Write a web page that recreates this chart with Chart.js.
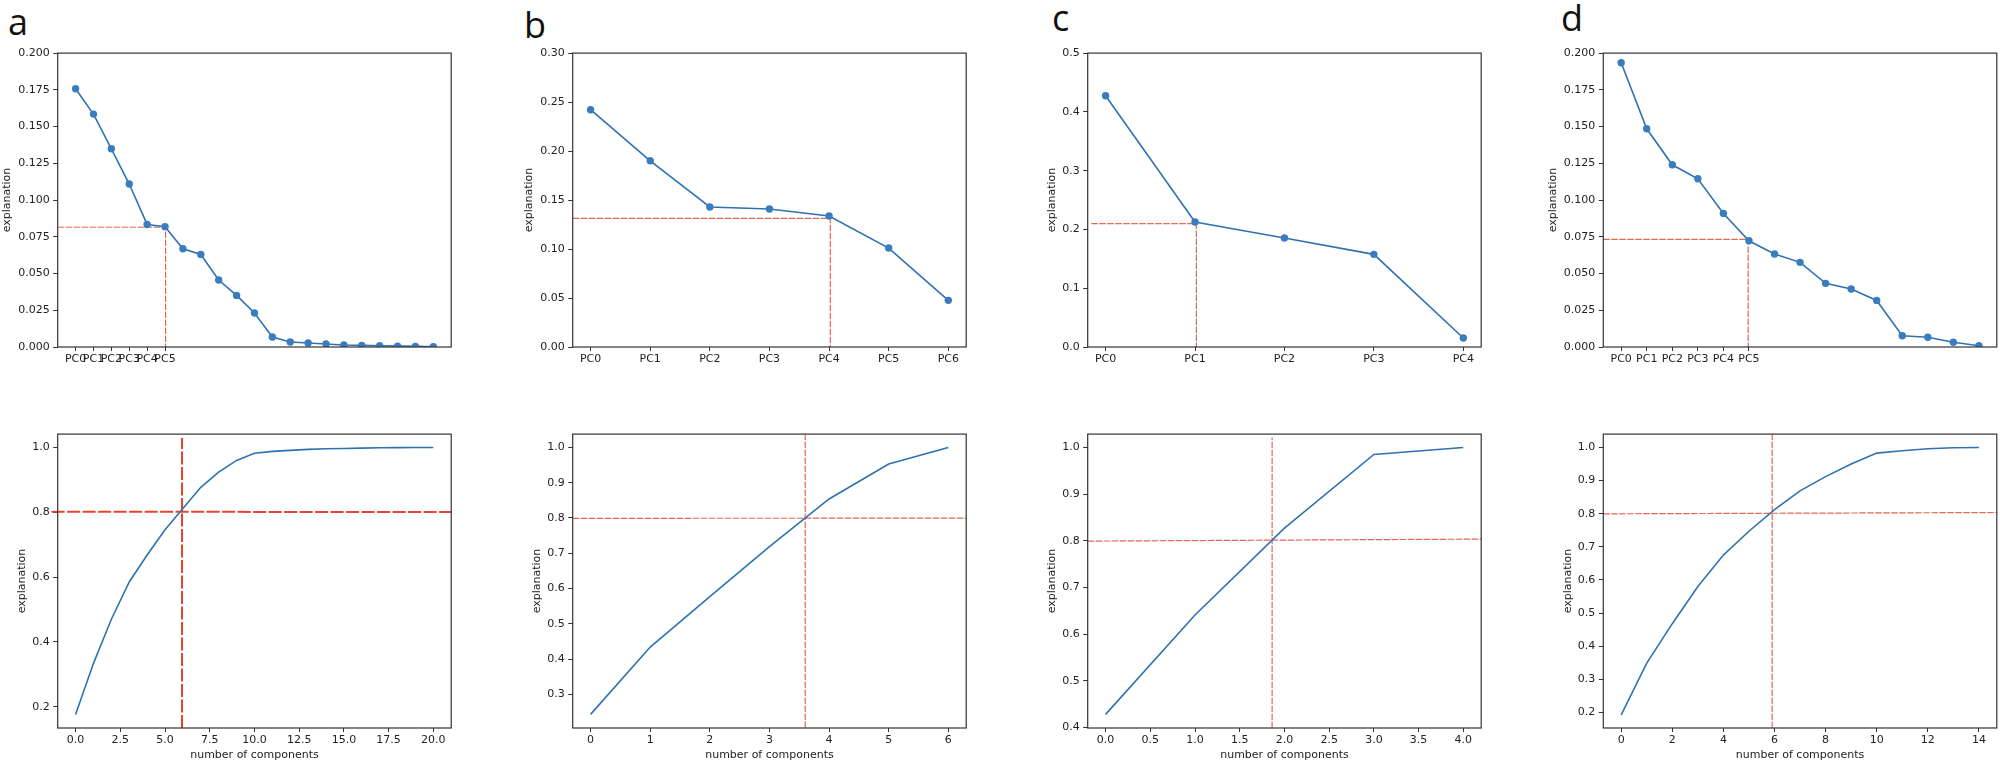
<!DOCTYPE html>
<html>
<head>
<meta charset="utf-8">
<script src="https://cdn.jsdelivr.net/npm/chart.js@4.4.1/dist/chart.umd.min.js"></script>
<style>
  html, body { margin: 0; padding: 0; background: #fff; }
  body { width: 2000px; height: 765px; position: relative; overflow: hidden; }
  canvas { position: absolute; }
  .tag { position: absolute; font: 36px 'Open Sans', sans-serif; line-height: 1; color: #111; }
</style>
</head>
<body>
<div class="tag" style="left:8px;top:4px">a</div>
<div class="tag" style="left:524px;top:7px">b</div>
<div class="tag" style="left:1052px;top:0px">c</div>
<div class="tag" style="left:1561px;top:0px">d</div>
<canvas id="aTop"></canvas>
<canvas id="bTop"></canvas>
<canvas id="cTop"></canvas>
<canvas id="dTop"></canvas>
<canvas id="aBot"></canvas>
<canvas id="bBot"></canvas>
<canvas id="cBot"></canvas>
<canvas id="dBot"></canvas>
<script>
// explained variance ratio per component
const aExplained = [0.1757, 0.1585, 0.1349, 0.1109, 0.0834, 0.0819, 0.0669, 0.0630, 0.0456, 0.0351, 0.0231,
    0.0068, 0.0034, 0.0027, 0.0020, 0.0014, 0.0011, 0.0009, 0.0006, 0.0004, 0.0002];
const bExplained = [0.2422, 0.1901, 0.1429, 0.1408, 0.1337, 0.1010, 0.0476];
const cExplained = [0.4274, 0.2126, 0.1854, 0.1576, 0.0153];
const dExplained = [0.1934, 0.1485, 0.1240, 0.1145, 0.0909, 0.0723, 0.0633, 0.0576, 0.0433, 0.0395, 0.0317,
    0.0077, 0.0066, 0.0032, 0.0009];

// cumulative explanation
const aCumulative = [0.176, 0.334, 0.470, 0.585, 0.668, 0.746, 0.812, 0.877, 0.924, 0.960, 0.982,
    0.988, 0.991, 0.994, 0.996, 0.997, 0.998, 0.999, 0.9995, 0.9998, 1.0];
const bCumulative = [0.243, 0.434, 0.577, 0.719, 0.854, 0.953, 1.0];
const cCumulative = [0.428, 0.641, 0.827, 0.985, 1.0];
const dCumulative = [0.193, 0.349, 0.468, 0.580, 0.675, 0.747, 0.812, 0.869, 0.912, 0.950, 0.983,
    0.990, 0.996, 0.999, 1.0];

// red dashed guides, [x, y] in data units
const aTopGuide = [[-1, 0.0815], [5.03, 0.0815], [5.03, 0]];
const bTopGuide = [[-0.3, 0.1313], [4.02, 0.1313], [4.02, 0]];
const cTopGuide = [[-0.16, 0.210], [1.015, 0.210], [1.015, 0]];
const dTopGuide = [[-0.7, 0.0732], [4.97, 0.0732], [4.97, 0]];
const aBotH = [[-1.34, 0.8015], [21, 0.801]];
const aBotV = [[5.95, 0.1345], [5.95, 1.029]];
const bBotH = [[-0.3, 0.799], [6.3, 0.7995]];
const bBotV = [[3.6, 0.2043], [3.6, 1.036]];
const cBotH = [[-0.2, 0.7993], [4.2, 0.8036]];
const cBotV = [[1.862, 0.3988], [1.862, 1.0214]];
const dBotH = [[-0.7, 0.7996], [14.7, 0.8036]];
const dBotV = [[5.91, 0.1531], [5.91, 1.0403]];

// tick values and labels
const aTopXLabels = ['PC0', 'PC1', 'PC2', 'PC3', 'PC4', 'PC5'];
const bTopXLabels = ['PC0', 'PC1', 'PC2', 'PC3', 'PC4', 'PC5', 'PC6'];
const cTopXLabels = ['PC0', 'PC1', 'PC2', 'PC3', 'PC4'];
const dTopXLabels = ['PC0', 'PC1', 'PC2', 'PC3', 'PC4', 'PC5'];
const smallYTicks = [0, 0.025, 0.05, 0.075, 0.1, 0.125, 0.15, 0.175, 0.2];
const bTopYTicks = [0, 0.05, 0.1, 0.15, 0.2, 0.25, 0.3];
const cTopYTicks = [0, 0.1, 0.2, 0.3, 0.4, 0.5];
const aBotXTicks = [0, 2.5, 5, 7.5, 10, 12.5, 15, 17.5, 20];
const bBotXTicks = [0, 1, 2, 3, 4, 5, 6];
const cBotXTicks = [0, 0.5, 1, 1.5, 2, 2.5, 3, 3.5, 4];
const dBotXTicks = [0, 2, 4, 6, 8, 10, 12, 14];
const aBotYTicks = [0.2, 0.4, 0.6, 0.8, 1.0];
const bBotYTicks = [0.3, 0.4, 0.5, 0.6, 0.7, 0.8, 0.9, 1.0];
const cBotYTicks = [0.4, 0.5, 0.6, 0.7, 0.8, 0.9, 1.0];
const dBotYTicks = [0.2, 0.3, 0.4, 0.5, 0.6, 0.7, 0.8, 0.9, 1.0];

Chart.defaults.font.family = "'DejaVu Sans', sans-serif";
Chart.defaults.font.size = 11;
Chart.defaults.color = '#222';

const BOX_W = 393.5, BOX_H = 294, PAD_TOP = 10;
const BLUE = '#2e72b3', DOT = '#3a7dbf';
const THIN_RED = 'rgba(222, 88, 62, 0.9)';

const framePlugin = {
    id: 'frame',
    afterDatasetsDraw(chart) {
        const { ctx, chartArea: a } = chart;
        ctx.save();
        ctx.strokeStyle = '#333';
        ctx.lineWidth = 1.2;
        ctx.strokeRect(a.left, a.top, a.right - a.left, a.bottom - a.top);
        ctx.restore();
    }
};

const indexed = values => values.map((v, i) => ({ x: i, y: v }));
const pts = list => list.map(([x, y]) => ({ x, y }));

function seriesSet(values, markers) {
    return {
        data: indexed(values), borderColor: BLUE, borderWidth: 1.6, tension: 0, order: 0,
        pointRadius: markers ? 3.7 : 0, pointBackgroundColor: DOT, pointBorderWidth: 0
    };
}
function guideSet(list, thick) {
    return {
        data: pts(list), borderColor: thick ? '#e8432f' : THIN_RED,
        borderWidth: thick ? 2 : 1.2, borderDash: thick ? [13, 2.5] : [6.5, 1.5],
        pointRadius: 0, tension: 0, order: 1, clip: thick ? false : undefined
    };
}

function makePanel(id, g, datasets, xs, ys) {
    const canvas = document.getElementById(id);
    const left = Math.floor(g.boxLeft - g.yw);
    const yw = g.boxLeft - left;
    const width = Math.ceil(yw + BOX_W + 4);
    const height = PAD_TOP + BOX_H + g.xh;
    canvas.width = width;
    canvas.height = height;
    canvas.style.left = left + 'px';
    canvas.style.top = (g.boxTop - PAD_TOP) + 'px';
    canvas.style.width = width + 'px';
    canvas.style.height = height + 'px';
    const tickGrid = len => ({ drawOnChartArea: false, drawTicks: true, tickLength: len, color: '#333', lineWidth: 1 });
    new Chart(canvas, {
        type: 'line',
        data: { datasets },
        options: {
            responsive: false,
            animation: false,
            devicePixelRatio: 1,
            layout: { padding: { top: PAD_TOP, right: width - yw - BOX_W, bottom: 0, left: 0 } },
            plugins: { legend: { display: false }, tooltip: { enabled: false } },
            scales: {
                x: {
                    type: 'linear', min: xs.min, max: xs.max, bounds: 'data',
                    afterBuildTicks: s => { s.ticks = xs.ticks.map(v => ({ value: v })); },
                    afterFit: s => { s.height = g.xh; },
                    grid: tickGrid(4),
                    border: { display: false },
                    ticks: {
                        autoSkip: false, maxRotation: 0, minRotation: 0, padding: 2,
                        callback: (v, i) => xs.labels ? xs.labels[i] : v.toFixed(xs.digits)
                    },
                    title: xs.title ? { display: true, text: xs.title, padding: 0 } : { display: false }
                },
                y: {
                    type: 'linear', min: ys.min, max: ys.max, bounds: 'data',
                    afterBuildTicks: s => { s.ticks = ys.ticks.map(v => ({ value: v })); },
                    afterFit: s => { s.width = yw; },
                    grid: tickGrid(4.5),
                    border: { display: false },
                    ticks: { autoSkip: false, padding: 3.5, callback: v => v.toFixed(ys.digits) },
                    title: { display: true, text: 'explanation', padding: 0 }
                }
            }
        },
        plugins: [framePlugin]
    });
}

const TOP = 53, BOT = 434;
const XTITLE = 'number of components';

makePanel('aTop', { boxLeft: 57.7, boxTop: TOP, yw: 56, xh: 25 },
    [seriesSet(aExplained, true), guideSet(aTopGuide, false)],
    { min: -1, max: 21, ticks: [0, 1, 2, 3, 4, 5], labels: aTopXLabels },
    { min: 0, max: 0.2, ticks: smallYTicks, digits: 3 });
makePanel('bTop', { boxLeft: 572.7, boxTop: TOP, yw: 49, xh: 25 },
    [seriesSet(bExplained, true), guideSet(bTopGuide, false)],
    { min: -0.3, max: 6.3, ticks: [0, 1, 2, 3, 4, 5, 6], labels: bTopXLabels },
    { min: 0, max: 0.3, ticks: bTopYTicks, digits: 2 });
makePanel('cTop', { boxLeft: 1087.7, boxTop: TOP, yw: 41.3, xh: 25 },
    [seriesSet(cExplained, true), guideSet(cTopGuide, false)],
    { min: -0.2, max: 4.2, ticks: [0, 1, 2, 3, 4], labels: cTopXLabels },
    { min: 0, max: 0.5, ticks: cTopYTicks, digits: 1 });
makePanel('dTop', { boxLeft: 1603.3, boxTop: TOP, yw: 56, xh: 25 },
    [seriesSet(dExplained, true), guideSet(dTopGuide, false)],
    { min: -0.7, max: 14.7, ticks: [0, 1, 2, 3, 4, 5], labels: dTopXLabels },
    { min: 0, max: 0.2, ticks: smallYTicks, digits: 3 });

makePanel('aBot', { boxLeft: 57.7, boxTop: BOT, yw: 41.5, xh: 34 },
    [seriesSet(aCumulative, false), guideSet(aBotH, true), guideSet(aBotV, true)],
    { min: -1, max: 21, ticks: aBotXTicks, digits: 1, title: XTITLE },
    { min: 0.1345, max: 1.0412, ticks: aBotYTicks, digits: 1 });
makePanel('bBot', { boxLeft: 572.7, boxTop: BOT, yw: 41.3, xh: 34 },
    [seriesSet(bCumulative, false), guideSet(bBotH, false), guideSet(bBotV, false)],
    { min: -0.3, max: 6.3, ticks: bBotXTicks, digits: 0, title: XTITLE },
    { min: 0.2043, max: 1.0379, ticks: bBotYTicks, digits: 1 });
makePanel('cBot', { boxLeft: 1087.7, boxTop: BOT, yw: 41, xh: 34 },
    [seriesSet(cCumulative, false), guideSet(cBotH, false), guideSet(cBotV, false)],
    { min: -0.2, max: 4.2, ticks: cBotXTicks, digits: 1, title: XTITLE },
    { min: 0.3988, max: 1.0286, ticks: cBotYTicks, digits: 1 });
makePanel('dBot', { boxLeft: 1603.3, boxTop: BOT, yw: 41.2, xh: 34 },
    [seriesSet(dCumulative, false), guideSet(dBotH, false), guideSet(dBotV, false)],
    { min: -0.7, max: 14.7, ticks: dBotXTicks, digits: 0, title: XTITLE },
    { min: 0.1531, max: 1.0403, ticks: dBotYTicks, digits: 1 });
</script>
</body>
</html>
